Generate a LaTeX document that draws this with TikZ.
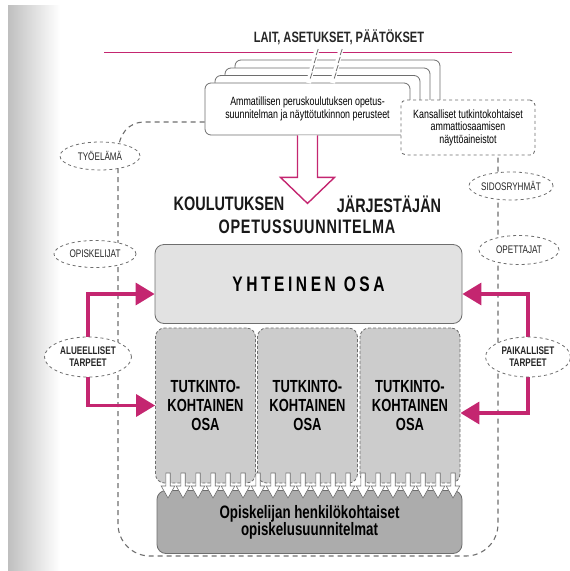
\documentclass[tikz,border=0pt]{standalone}
\usepackage{fontspec}
\newfontfamily\cond[FakeStretch=0.74]{Liberation Sans}
\usetikzlibrary{shapes.geometric,arrows.meta,calc}
\definecolor{pinkc}{RGB}{196,38,112}
\definecolor{lineg}{RGB}{110,110,110}
\definecolor{fillA}{RGB}{226,226,226}
\definecolor{fillB}{RGB}{204,204,204}
\definecolor{fillC}{RGB}{172,172,172}
\begin{document}
\begin{tikzpicture}[x=1pt,y=-1pt,
  ell/.style={ellipse, draw=lineg, dashed, line width=0.8pt, fill=white, inner sep=0pt, align=center,
     font=\cond\fontsize{11}{12}\selectfont, text=black!85},
  stackbox/.style={draw=lineg, line width=0.8pt, fill=white, rounded corners=6pt},
  graybox/.style={draw=lineg, line width=0.8pt, rounded corners=9pt, inner sep=0pt},
  pk/.style={draw=pinkc, line width=3.5pt, -{Triangle[length=19pt,width=22pt]}},
  outer/.style={draw=lineg, dashed, dash pattern=on 5pt off 4pt, line width=1.1pt}
]
\useasboundingbox (0,0) rectangle (570,571);
\shade[left color=gray!50, right color=white] (8,5) rectangle (60,571);
\fill[white] (0,0) rectangle (570,5);

% title and pink line
\node[font=\cond\bfseries\fontsize{15}{17}\selectfont, text=black!85] (lait) at (339,37) {LAIT, ASETUKSET, PÄÄTÖKSET};
\draw[pinkc, line width=1pt] (104,52) -- (512,52);

% stacked boxes
\draw[stackbox] (235,60) rectangle (440,112);
\draw[stackbox] (225,68) rectangle (430,120);
\draw[stackbox] (215,75.5) rectangle (420,127.5);
\node[stackbox, minimum width=205pt, minimum height=52pt, align=center,
  font=\cond\fontsize{12}{13.5}\selectfont] (front) at (307.5,109)
  {Ammatillisen peruskoulutuksen opetus-\\suunnitelman ja näyttötutkinnon perusteet};

% break marks
\foreach \bx in {317,341}{
  \draw[white, line width=5pt] (\bx,49) -- ($(\bx,49)+(-8.5,34)$);
  \foreach \yy/\dx in {52/0,60/2,68/4,75.5/6}{
    \draw[lineg, line width=0.8pt] ($(\bx,\yy)+(-\dx,0)+(1.2,-3)$) -- ($(\bx,\yy)+(-\dx,0)+(-0.8,3)$);
  }
}

% Kansalliset box
\node[draw=lineg, dashed, line width=0.9pt, fill=white, rounded corners=5pt,
  minimum width=134pt, minimum height=55pt, align=center,
  font=\cond\fontsize{12}{12.5}\selectfont] (kans) at (468,127.5)
  {Kansalliset tutkintokohtaiset\\ammattiosaamisen\\näyttöaineistot};

% outer dashed frame
\draw[outer] ([yshift=-13pt]front.west) -- (145,122) .. controls (128,122) and (119,134) .. (118,152);
\draw[outer, rounded corners=32pt] (118,150) -- (118,556) -- (498,556) -- ([xshift=30pt]kans.south);

% big hollow arrow
\draw[pinkc, line width=1.4pt, fill=white, line join=miter]
  ([xshift=-10pt]front.south) -- ++(0,42) -- ++(-17,0) -- ++(27,26) -- ++(27,-26) -- ++(-17,0) -- ([xshift=10pt]front.south);

% title of curriculum
\node[font=\cond\bfseries\fontsize{19.5}{22}\selectfont, text=black!90] (koul) at (229,204) {KOULUTUKSEN};
\node[font=\cond\bfseries\fontsize{19.5}{22}\selectfont, text=black!90] (jarj) at (389,204) {JÄRJESTÄJÄN};
\node[font=\cond\bfseries\fontsize{19.5}{22}\selectfont, text=black!90] (opsu) at (307,227) {\addfontfeature{LetterSpace=4}OPETUSSUUNNITELMA};

% main boxes
\node[graybox, fill=fillA, minimum width=307pt, minimum height=79pt,
  font=\cond\bfseries\fontsize{21}{23}\selectfont] (yht) at (308.5,284)
  {\addfontfeature{LetterSpace=17}YHTEINEN OSA};
\foreach \n/\cx in {tk1/205.5,tk2/307.5,tk3/410}{
  \node[graybox, fill=fillB, densely dashed, minimum width=100pt, minimum height=155pt, align=center,
    font=\cond\bfseries\fontsize{17.5}{19}\selectfont] (\n) at (\cx,405.5)
    {TUTKINTO-\\KOHTAINEN\\OSA};
}
\node[graybox, fill=fillC, minimum width=305pt, minimum height=63pt, align=center,
  font=\cond\bfseries\fontsize{18}{17}\selectfont] (opis) at (309.5,522)
  {Opiskelijan henkilökohtaiset\\opiskelusuunnitelmat};

% small arrows
\foreach \i in {0,...,19}{
  \pgfmathsetmacro{\ax}{168+\i*15}
  \draw[lineg, line width=0.6pt, fill=white, line join=miter]
    (\ax-2.2,473) -- (\ax+2.2,473) -- (\ax+2.2,486) -- (\ax+6.8,486) -- (\ax,498) -- (\ax-6.8,486) -- (\ax-2.2,486) -- cycle;
}

% ellipses
\node[ell, minimum width=80pt, minimum height=28pt] (tyo) at (100,156) {TYÖELÄMÄ};
\node[ell, minimum width=82pt, minimum height=27pt] (opk) at (95,254) {OPISKELIJAT};
\node[ell, minimum width=80pt, minimum height=28pt] (sid) at (511,186) {SIDOSRYHMÄT};
\node[ell, minimum width=80pt, minimum height=29pt] (opet) at (519,250) {OPETTAJAT};

% pink arrows
\node[ell, minimum width=87pt, minimum height=40pt, draw=none] (alue) at (88,357) {};
\node[ell, minimum width=85pt, minimum height=40pt, draw=none] (paik) at (528,357) {};
\draw[pk] (alue.north) |- ([yshift=-10pt]yht.west);
\draw[pk] (alue.south) |- (tk1.west);
\draw[pk] (paik.north) |- ([yshift=-10pt]yht.east);
\draw[pk] (paik.south) |- ([yshift=-7.5pt]tk3.east);
\node[ell, minimum width=87pt, minimum height=40pt, font=\cond\bfseries\fontsize{11}{12}\selectfont] at (alue) {ALUEELLISET\\TARPEET};
\node[ell, minimum width=85pt, minimum height=40pt, font=\cond\bfseries\fontsize{11}{12}\selectfont] at (paik) {PAIKALLISET\\TARPEET};
\end{tikzpicture}
\end{document}
